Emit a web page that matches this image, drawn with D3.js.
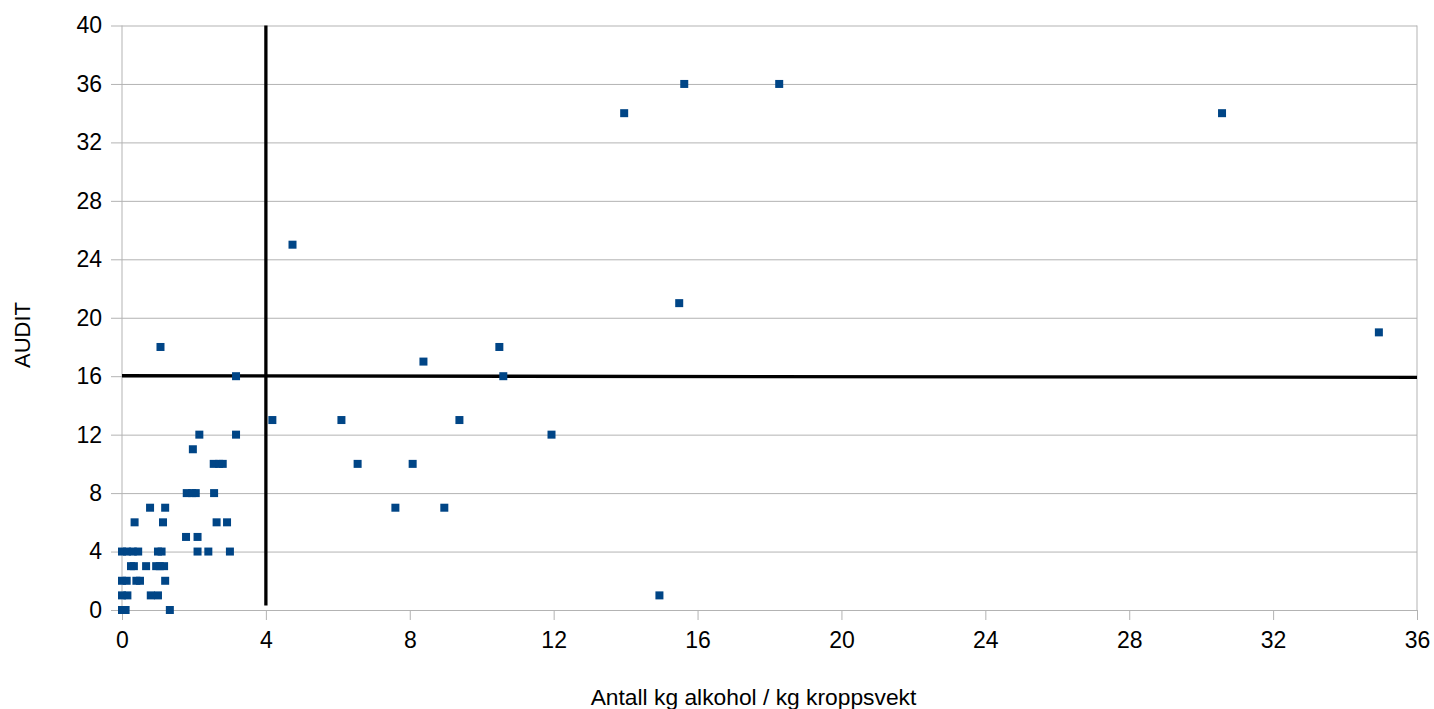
<!DOCTYPE html>
<html lang="no">
<head>
<meta charset="UTF-8">
<title>AUDIT vs alkohol</title>
<script src="https://d3js.org/d3.v7.min.js"></script>
<style>
  body { margin: 0; background: #fff; font-family: "Liberation Sans", Arial, sans-serif; }
  .grid line { stroke: #b3b3b3; stroke-width: 1; }
  .grid path { display: none; }
  .axis path { display: none; }
  .axis line { stroke: #b3b3b3; }
  .axis text { font-family: "Liberation Sans", Arial, sans-serif; font-size: 23px; fill: #000; }
</style>
</head>
<body>
<script>
// data: kg alkohol / kg kroppsvekt vs AUDIT score
const alcohol = [
  0, 0.1, 1.33,
  0, 0.15, 0.8, 1.0,
  0, 0.13, 0.4, 0.5, 1.2,
  0.25, 0.33, 0.67, 0.95, 1.05, 1.17,
  0, 0.14, 0.3, 0.45, 1.0, 1.1, 2.1, 2.4, 3.0,
  1.78, 2.1,
  0.35, 1.14, 2.63, 2.92,
  0.78, 1.2,
  1.8, 1.95, 2.05, 2.56,
  2.55, 2.7, 2.8,
  1.97,
  2.15, 3.17,
  4.18,
  3.17,
  1.07,
  4.74, 6.1, 6.55, 7.6, 8.08, 8.38, 8.96, 9.38, 10.49, 10.6, 11.94,
  13.96, 14.94, 15.49, 15.63, 18.27, 30.58, 34.94
];
const audit = [
  0, 0, 0,
  1, 1, 1, 1,
  2, 2, 2, 2, 2,
  3, 3, 3, 3, 3, 3,
  4, 4, 4, 4, 4, 4, 4, 4, 4,
  5, 5,
  6, 6, 6, 6,
  7, 7,
  8, 8, 8, 8,
  10, 10, 10,
  11,
  12, 12,
  13,
  16,
  18,
  25, 13, 10, 7, 10, 17, 7, 13, 18, 16, 12,
  34, 1, 21, 36, 36, 34, 19
];
const points = alcohol.map((a, i) => ({ x: a, y: audit[i] }));

// threshold lines
const xCut = [[4, 0.3], [4, 40]];
const yCut = [[0, 16.03], [36, 15.92]];

const xTicks = d3.range(0, 37, 4);
const yTicks = d3.range(0, 41, 4);

const W = 1434, H = 709;
const pLeft = 122, pRight = 1417, pTop = 25.5, pBottom = 610;

const svg = d3.select("body").append("svg")
  .attr("width", W).attr("height", H);

const x = d3.scaleLinear().domain([0, 36]).range([pLeft, pRight]);
const y = d3.scaleLinear().domain([0, 40]).range([pBottom, pTop]);

// horizontal grid
svg.append("g").attr("class", "grid")
  .attr("transform", `translate(${pLeft},0)`)
  .call(d3.axisLeft(y).tickValues(yTicks).tickSize(-(pRight - pLeft)).tickFormat(""));

// frame: left axis, right border
svg.append("line").attr("x1", pLeft).attr("x2", pLeft).attr("y1", pTop).attr("y2", pBottom)
  .attr("stroke", "#b3b3b3");
svg.append("line").attr("x1", pRight).attr("x2", pRight).attr("y1", pTop).attr("y2", pBottom)
  .attr("stroke", "#b3b3b3");

// axes with outer ticks
svg.append("g").attr("class", "axis")
  .attr("transform", `translate(${pLeft},0)`)
  .call(d3.axisLeft(y).tickValues(yTicks).tickSize(11).tickPadding(9));

svg.append("g").attr("class", "axis")
  .attr("transform", `translate(0,${pBottom})`)
  .call(d3.axisBottom(x).tickValues(xTicks).tickSize(10).tickPadding(12));

// threshold lines
const line = d3.line().x(d => x(d[0])).y(d => y(d[1]));
svg.append("path").datum(xCut).attr("d", line)
  .attr("stroke", "#000").attr("stroke-width", 3.3).attr("fill", "none");
svg.append("path").datum(yCut).attr("d", line)
  .attr("stroke", "#000").attr("stroke-width", 3.3).attr("fill", "none");

// markers
const s = 8;
svg.append("g").selectAll("rect")
  .data(points)
  .enter().append("rect")
  .attr("x", d => x(d.x) - s / 2)
  .attr("y", d => y(d.y) - s / 2)
  .attr("width", s).attr("height", s)
  .attr("fill", "#004586");

// axis titles
svg.append("text")
  .attr("x", (pLeft + pRight) / 2 - 16).attr("y", 705)
  .attr("text-anchor", "middle")
  .style("font-size", "22.8px")
  .text("Antall kg alkohol / kg kroppsvekt");

svg.append("text")
  .attr("transform", "translate(30,335) rotate(-90)")
  .attr("text-anchor", "middle")
  .style("font-size", "22px")
  .text("AUDIT");
</script>
</body>
</html>
